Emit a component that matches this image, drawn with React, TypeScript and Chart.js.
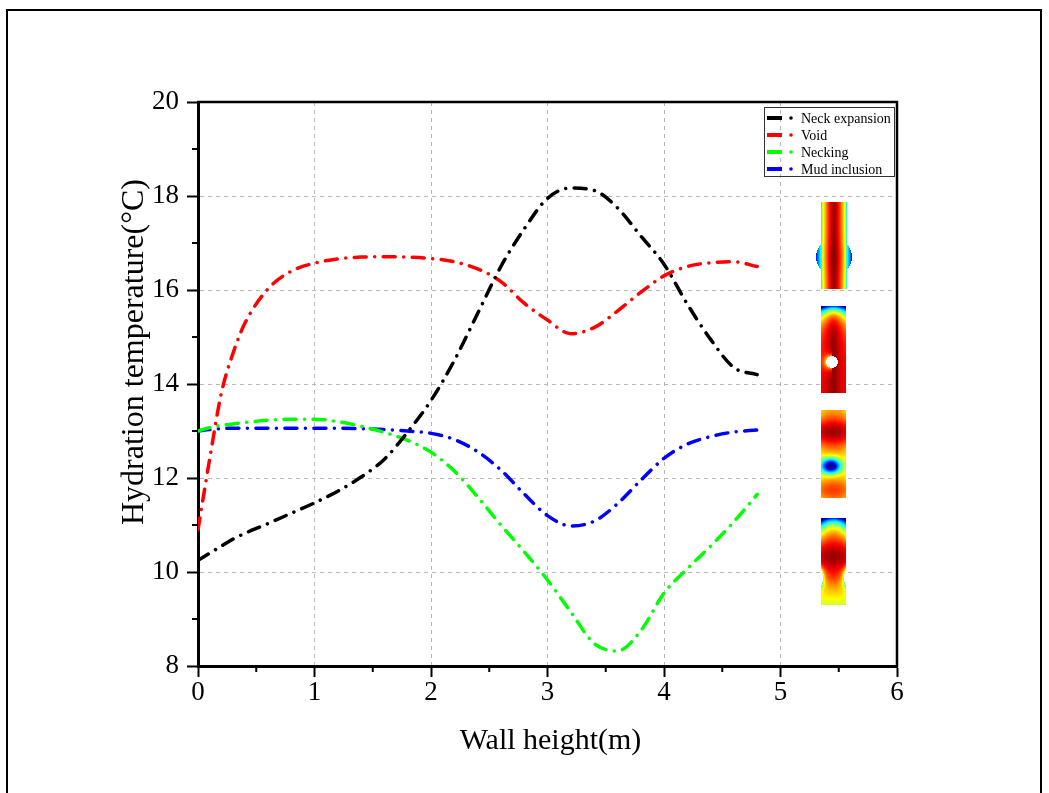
import React, { useEffect, useRef } from 'react';
import { Chart, registerables } from 'chart.js';

Chart.register(...registerables);

// ---------- data ----------
const wallHeight = [0, 0.1, 0.2, 0.3, 0.4, 0.6, 0.8, 1.0, 1.2, 1.4, 1.6, 1.8, 2.0, 2.2, 2.4, 2.6, 2.8, 3.0, 3.2, 3.4, 3.6, 3.8, 4.0, 4.2, 4.4, 4.6, 4.8];
const neckExpansion = [10.25, 10.4, 10.55, 10.7, 10.82, 11.03, 11.25, 11.47, 11.72, 12.02, 12.4, 12.98, 13.65, 14.5, 15.5, 16.5, 17.3, 17.95, 18.17, 18.12, 17.75, 17.15, 16.55, 15.7, 14.95, 14.35, 14.2];
const voidTemp = [10.9, 12.4, 13.8, 14.65, 15.28, 16.02, 16.4, 16.57, 16.66, 16.7, 16.71, 16.7, 16.67, 16.6, 16.45, 16.18, 15.72, 15.36, 15.07, 15.2, 15.55, 15.95, 16.3, 16.5, 16.58, 16.6, 16.5];
const necking = [13.0, 13.07, 13.12, 13.15, 13.18, 13.23, 13.25, 13.25, 13.2, 13.1, 12.97, 12.8, 12.55, 12.15, 11.6, 11.0, 10.43, 9.83, 9.15, 8.48, 8.32, 8.75, 9.55, 10.07, 10.55, 11.07, 11.65];
const mudInclusion = [13.0, 13.03, 13.05, 13.06, 13.06, 13.06, 13.06, 13.06, 13.06, 13.05, 13.03, 13.0, 12.95, 12.82, 12.56, 12.17, 11.66, 11.2, 10.98, 11.08, 11.45, 11.95, 12.42, 12.72, 12.88, 12.98, 13.02];

const seriesLabels = ['Neck expansion', 'Void', 'Necking', 'Mud inclusion'];
const seriesColors = ['#000000', '#ff0000', '#00ff00', '#0000ff'];
const seriesValues = [neckExpansion, voidTemp, necking, mudInclusion];

const xTitle = 'Wall height(m)';
const yTitle = 'Hydration temperature(°C)';
const xMin = 0, xMax = 6, xStep = 1;
const yMin = 8, yMax = 20, yStep = 2;

const SERIF = "'Liberation Serif', 'Times New Roman', serif";

// ---------- decorative contour thumbnails ----------
function jet(t: number): [number, number, number] {
  const c = (v: number) => Math.max(0, Math.min(1, v));
  t = c(t);
  return [
    Math.round(255 * c(1.5 - Math.abs(4 * t - 3))),
    Math.round(255 * c(1.5 - Math.abs(4 * t - 2))),
    Math.round(255 * c(1.5 - Math.abs(4 * t - 1))),
  ];
}

type Field = (x: number, y: number) => number | null | 'white';

function makeThumb(W: number, H: number, fn: Field): HTMLCanvasElement {
  const cv = document.createElement('canvas');
  cv.width = W;
  cv.height = H;
  const ctx = cv.getContext('2d')!;
  const img = ctx.createImageData(W, H);
  for (let j = 0; j < H; j++) {
    for (let i = 0; i < W; i++) {
      const v = fn(i + 0.5, j + 0.5);
      const k = (j * W + i) * 4;
      if (v === null) { img.data[k + 3] = 0; continue; }
      if (v === 'white') { img.data[k] = 255; img.data[k + 1] = 255; img.data[k + 2] = 255; img.data[k + 3] = 255; continue; }
      const [r, g, b] = jet(v);
      img.data[k] = r; img.data[k + 1] = g; img.data[k + 2] = b; img.data[k + 3] = 255;
    }
  }
  ctx.putImageData(img, 0, 0);
  return cv;
}

function buildThumbs() {
  const t1 = makeThumb(38, 87, (x, y) => {
    const dx = x - 19;
    const inRect = Math.abs(dx) <= 12.5;
    const inCirc = dx * dx + (y - 55) * (y - 55) <= 18 * 18;
    if (!inRect && !inCirc) return null;
    const u = Math.abs(dx) / 18;
    let t = 0.97 - 0.75 * Math.pow(u, 1.4) - (Math.abs(dx) > 11.5 ? 0.12 : 0);
    t += 0.03 * Math.exp(-(((y - 55) / 18) ** 2));
    return t;
  });
  const t2 = makeThumb(25, 87, (x, y) => {
    const dx = x - 12.5;
    const hd = Math.hypot(x - 11, y - 56);
    if (hd <= 6) return 'white';
    const top = 1 - Math.exp(-(y + 0.5) / 8);
    let t = 0.1 + 0.8 * top;
    t -= 0.25 * (dx / 12.5) ** 2 * Math.exp(-y / 25);
    t += 0.08 * Math.exp(-((dx / 6) ** 2)) * top;
    if (x < 11) t -= 0.25 * Math.exp(-(hd - 6) / 3);
    return t;
  });
  const t3 = makeThumb(25, 88, (x, y) => {
    const dx = x - 12.5;
    let base = 0.7 + 0.27 * Math.exp(-(((y - 22) / 14) ** 2)) + 0.12 * Math.exp(-(((y - 80) / 10) ** 2));
    base -= 0.06 * (dx / 12.5) ** 2;
    const d = ((x - 10) / 7) ** 2 + ((y - 56) / 5.5) ** 2;
    return base - 0.72 * Math.exp(-d / 2);
  });
  const t4 = makeThumb(25, 87, (x, y) => {
    const dx = x - 12.5;
    const r = 18, cy = 60;
    const dl = Math.hypot(x + 16, y - cy);
    const dr = Math.hypot(x - 41, y - cy);
    if (dl < r || dr < r) return null;
    const top = 1 - Math.exp(-(y + 0.5) / 8);
    const base = 0.78 + 0.2 * Math.exp(-(((y - 38) / 18) ** 2)) - 0.2 * Math.max(0, (y - 60) / 27);
    let t = 0.1 + (base - 0.1) * top;
    t -= 0.3 * (dx / 12.5) ** 2 * Math.exp(-y / 20);
    t -= 0.3 * Math.exp(-(Math.min(dl, dr) - r) / 2.5);
    return t;
  });
  return [
    { cv: t1, x: 815, y: 202 },
    { cv: t2, x: 821, y: 306 },
    { cv: t3, x: 821, y: 410 },
    { cv: t4, x: 821, y: 518 },
  ];
}

export default function App() {
  const ref = useRef<HTMLCanvasElement>(null);

  useEffect(() => {
    const canvas = ref.current;
    if (!canvas) return;
    const thumbs = buildThumbs();

    const decor = {
      id: 'decor',
      beforeDraw(chart: any) {
        const ctx = chart.ctx;
        ctx.save();
        ctx.fillStyle = '#ffffff';
        ctx.fillRect(0, 0, chart.width, chart.height);
        ctx.restore();
      },
      afterDraw(chart: any) {
        const ctx: CanvasRenderingContext2D = chart.ctx;
        const { left, right, top, bottom } = chart.chartArea;
        const xs = chart.scales.x;
        const ys = chart.scales.y;
        ctx.save();

        // plot box top / right
        ctx.strokeStyle = '#000';
        ctx.lineWidth = 2.5;
        ctx.beginPath();
        ctx.moveTo(left - 1, top);
        ctx.lineTo(right, top);
        ctx.lineTo(right, bottom + 1);
        ctx.stroke();

        // minor ticks
        ctx.lineWidth = 2;
        ctx.beginPath();
        for (let v = xMin + xStep / 2; v < xMax; v += xStep) {
          const px = xs.getPixelForValue(v);
          ctx.moveTo(px, bottom);
          ctx.lineTo(px, bottom + 6);
        }
        for (let v = yMin + yStep / 2; v < yMax; v += yStep) {
          const py = ys.getPixelForValue(v);
          ctx.moveTo(left, py);
          ctx.lineTo(left - 6, py);
        }
        ctx.stroke();

        // axis titles
        ctx.fillStyle = '#000';
        ctx.textAlign = 'center';
        ctx.textBaseline = 'middle';
        ctx.font = `30px ${SERIF}`;
        ctx.fillText(xTitle, (left + right) / 2 + 3, 741);
        ctx.save();
        ctx.translate(135, 352);
        ctx.rotate(-Math.PI / 2);
        ctx.font = `32px ${SERIF}`;
        ctx.fillText(yTitle, 0, 0);
        ctx.restore();

        // thumbnails
        thumbs.forEach((t) => ctx.drawImage(t.cv, t.x, t.y));

        // legend
        const lx = 764, ly = 107, lw = 130, lh = 69;
        ctx.strokeStyle = '#333';
        ctx.lineWidth = 1;
        ctx.strokeRect(lx + 0.5, ly + 0.5, lw, lh);
        const rowY = [118, 135, 152, 169];
        ctx.textAlign = 'left';
        ctx.font = `14px ${SERIF}`;
        seriesLabels.forEach((lab, i) => {
          const y = rowY[i];
          ctx.strokeStyle = seriesColors[i];
          ctx.lineWidth = 4;
          ctx.lineCap = 'butt';
          ctx.beginPath();
          ctx.moveTo(767, y);
          ctx.lineTo(782, y);
          ctx.stroke();
          ctx.fillStyle = seriesColors[i];
          ctx.beginPath();
          ctx.arc(791, y, 1.8, 0, Math.PI * 2);
          ctx.fill();
          ctx.fillStyle = '#000';
          ctx.fillText(lab, 801, y + 1);
        });

        // outer frame
        ctx.strokeStyle = '#000';
        ctx.lineWidth = 2;
        ctx.strokeRect(7, 10, 1034, 800);
        ctx.restore();
      },
    };

    const chart = new Chart(canvas, {
      type: 'line',
      data: {
        datasets: seriesValues.map((vals, i) => ({
          label: seriesLabels[i],
          data: wallHeight.map((x, k) => ({ x, y: vals[k] })),
          borderColor: seriesColors[i],
          backgroundColor: seriesColors[i],
          borderWidth: 3.5,
          borderDash: [12, 8.5, 0.01, 8.5],
          borderCapStyle: 'round',
          pointRadius: 0,
          fill: false,
          cubicInterpolationMode: 'monotone',
        })),
      },
      options: {
        animation: false,
        responsive: false,
        devicePixelRatio: 1,
        layout: { padding: { left: 0, right: 152, top: 102, bottom: 0 } },
        plugins: { legend: { display: false }, tooltip: { enabled: false } },
        scales: {
          x: {
            type: 'linear',
            min: xMin,
            max: xMax,
            ticks: { stepSize: xStep, color: '#000', font: { family: SERIF, size: 27 }, padding: 0, maxRotation: 0 },
            grid: { color: '#b8b8b8', lineWidth: 1, tickColor: '#000', tickLength: 11, tickWidth: 2 },
            border: { display: true, color: '#000', width: 3, dash: [4, 4] },
            afterFit: (s: any) => { s.height = 127; },
          },
          y: {
            type: 'linear',
            min: yMin,
            max: yMax,
            ticks: { stepSize: yStep, color: '#000', font: { family: SERIF, size: 27 }, padding: 8 },
            grid: { color: '#b8b8b8', lineWidth: 1, tickColor: '#000', tickLength: 11, tickWidth: 2 },
            border: { display: true, color: '#000', width: 3, dash: [4, 4] },
            afterFit: (s: any) => { s.width = 198; },
          },
        },
      },
      plugins: [decor],
    } as any);

    return () => chart.destroy();
  }, []);

  return (
    <div style={{ position: 'absolute', left: 0, top: 0, width: 1049, height: 793, background: '#fff', overflow: 'hidden' }}>
      <canvas ref={ref} width={1049} height={793} style={{ display: 'block', width: 1049, height: 793 }} />
    </div>
  );
}
